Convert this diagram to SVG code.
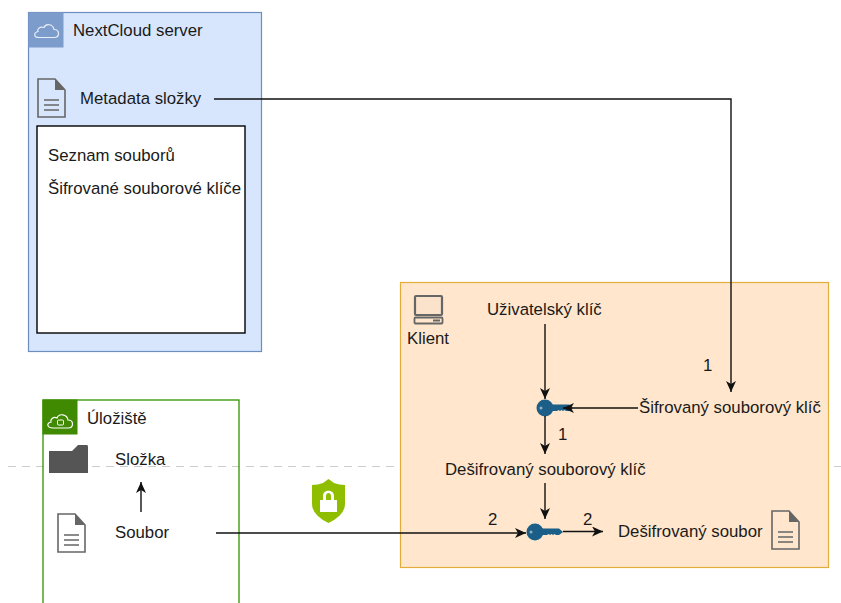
<svg xmlns="http://www.w3.org/2000/svg" width="841" height="603" viewBox="0 0 841 603">
<style>
text{font-family:"Liberation Sans",Arial,sans-serif;font-size:16.8px;fill:#1a1a1a;dominant-baseline:central}
.c{stroke:#111;stroke-width:1.4;fill:none;marker-end:url(#a)}
</style>
<defs>
<marker id="a" markerUnits="userSpaceOnUse" markerWidth="14" markerHeight="12" refX="11" refY="5" orient="auto"><path d="M0 0L11 5L0 10L3 5Z" fill="#111"/></marker>
<g id="docIcon"><path d="M1 1H18L28 12V39H1Z" fill="none" stroke="#666" stroke-width="1.6"/><path d="M18 1L28 12H18Z" fill="#666"/><path d="M7 22H22M7 27H22M7 32H22" stroke="#666" stroke-width="1.6" fill="none"/></g>
<g id="keyIcon"><circle cx="9" cy="9" r="8.500" fill="#1b5e87"/><path d="M14 5.500H33L37 9L33 12H30L28.500 11L27 12L25.500 11L24 12L22.500 11L21 12H14Z" fill="#1b5e87"/><circle cx="5" cy="9" r="1.500" fill="#fff" opacity=".5"/></g>
</defs>
<rect width="841" height="603" fill="#fff"/>
<path d="M8 466.500H841" stroke="#ccc" stroke-width="1.2" stroke-dasharray="8 6"/>
<g id="nextcloud">
<rect x="28.500" y="12.500" width="233" height="339" fill="#d8e6fd" stroke="#6c8ebf" stroke-width="1.2"/>
<rect x="28.500" y="12.500" width="35" height="35" fill="#7c9ccb"/>
<path d="M39 37.500H54C60 37.500 60 29.500 54 29.500C53 24 46 23 44 27.500C39 26 37 30 38 31.500C33 33 34 37.500 39 37.500Z" fill="none" stroke="#e8eefa" stroke-width="1.2"/>
<text x="73" y="30">NextCloud server</text>
</g>
<g id="metadata">
<use href="#docIcon" x="37" y="78"/>
<text x="80" y="98.500">Metadata složky</text>
</g>
<g id="metadata-box">
<rect x="37" y="126" width="208" height="207" fill="#fff" stroke="#000" stroke-width="1.4"/>
<text x="48" y="155">Seznam souborů</text>
<text x="48" y="188.500">Šifrované souborové klíče</text>
</g>
<g id="uloziste">
<rect x="43" y="400" width="196" height="215" fill="none" stroke="#3f9a10" stroke-width="1.4"/>
<rect x="42.500" y="399.500" width="35" height="35" fill="#3f8a00"/>
<path d="M53 428H68C74 428 74 420 68 420C67 414 59 413 57 418C53 416 50 420 51 422C46 423 47 428 53 428Z" fill="none" stroke="#fff" stroke-width="1.2"/>
<rect x="57.500" y="420" width="6" height="5" rx="1" fill="none" stroke="#fff"/>
<text x="87" y="418">Úložiště</text>
</g>
<g id="slozka">
<path d="M49 451H72L78 445H87Q88 445 88 447V473H49Z" fill="#555"/>
<text x="115" y="459.500">Složka</text>
</g>
<g id="soubor">
<use href="#docIcon" x="57" y="513"/>
<text x="115" y="532.500">Soubor</text>
</g>
<g id="klient">
<rect x="400.500" y="282.500" width="428" height="285" fill="#ffe6cc" stroke="#e3ad3c" stroke-width="1.2"/>
<rect x="415" y="296" width="27" height="19" rx="1" fill="#fbe3cb" stroke="#666" stroke-width="2.200"/>
<rect x="414.500" y="317.500" width="28" height="6" rx="1" fill="none" stroke="#666" stroke-width="1.800"/>
<rect x="433" y="319.500" width="7" height="2" fill="#666"/>
<text x="407" y="338.500">Klient</text>
</g>
<g id="uzivatelsky"><text x="487" y="309.500">Uživatelský klíč</text></g>
<g id="sifrovany"><text x="639" y="407.500">Šifrovaný souborový klíč</text></g>
<g id="desifrovany-klic"><text x="445" y="469.500">Dešifrovaný souborový klíč</text></g>
<g id="desifrovany-soubor">
<text x="618" y="531.500">Dešifrovaný soubor</text>
<use href="#docIcon" x="771" y="510"/>
</g>
<g id="key1"><use href="#keyIcon" x="536" y="399"/></g>
<g id="key2"><use href="#keyIcon" x="526" y="523"/></g>
<g id="connectors">
<path class="c" d="M214 99H731V392"/>
<path class="c" d="M545 324V399"/>
<path class="c" d="M638 408H563"/>
<path class="c" d="M545 416V454"/>
<path class="c" d="M545 483V519"/>
<path class="c" d="M216 533H526"/>
<path class="c" d="M563 531.500H603"/>
<path class="c" d="M141 512V482"/>
</g>
<g id="shield">
<path d="M328.500 479L334 483Q339 485 345 485V504Q345 515 328.500 523Q312 515 312 504V485Q318 485 323 483Z" fill="#8fbe00"/>
<path d="M323 500V496C323 489 334 489 334 496V500H337V512H320V500Z M326 500H331V496C331 492 326 492 326 496Z" fill="#fff" fill-rule="evenodd"/>
</g>
<g id="labels">
<text x="703" y="365.500">1</text>
<text x="558" y="434.500">1</text>
<text x="488" y="519.500">2</text>
<text x="583" y="519.500">2</text>
</g>
</svg>
